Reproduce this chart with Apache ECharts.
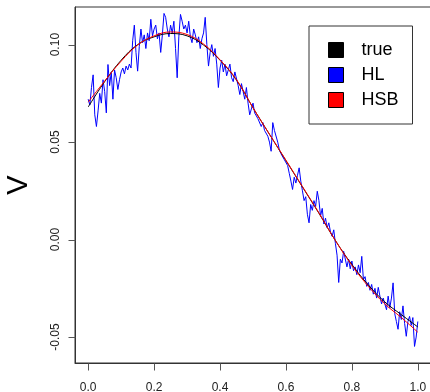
<!DOCTYPE html>
<html>
<head>
<meta charset="utf-8">
<script src="https://cdn.jsdelivr.net/npm/echarts@6/dist/echarts.min.js"></script>
<style>html,body{margin:0;padding:0;background:#fff}#c{width:430px;height:392px}</style>
</head>
<body>
<div id="c"></div>
<script>
const seriesNames = ['true', 'HL', 'HSB'];
const xTicks = [0, 0.2, 0.4, 0.6, 0.8, 1.0];
const yTicks = [-0.05, 0, 0.05, 0.10];
const smoothX = [0,0.05,0.10,0.15,0.20,0.25,0.30,0.35,0.40,0.45,0.50,0.55,0.60,0.65,0.70,0.75,0.80,0.85,0.90,0.95,1.00];
const trueV = [0.0680,0.0810,0.0920,0.1000,0.1040,0.1057,0.1045,0.0998,0.0920,0.0818,0.0676,0.0540,0.0405,0.0270,0.0135,-0.0005,-0.0128,-0.0233,-0.0320,-0.0385,-0.0448];
const hsbV = [0.0705,0.0813,0.0915,0.0998,0.1045,0.1065,0.1052,0.1003,0.0922,0.0820,0.0676,0.0540,0.0407,0.0272,0.0137,-0.0005,-0.0132,-0.0240,-0.0330,-0.0400,-0.0475];
const hlStep = 0.005;
const hlV = [
0.0720,0.0690,0.0780,0.0845,0.0640,0.0580,0.0660,0.0750,0.0700,0.0820,
0.0760,0.0650,0.0898,0.0790,0.0860,0.0720,0.0870,0.0830,0.0770,0.0820,
0.0860,0.0880,0.0850,0.0890,0.0870,0.0900,0.0880,0.1020,0.1100,0.0960,
0.0864,0.0990,0.1080,0.1010,0.1050,0.0980,0.1060,0.1020,0.1130,0.1045,
0.1080,0.1100,0.1030,0.1060,0.0960,0.1050,0.1160,0.1140,0.1080,0.1040,
0.1100,0.1060,0.1120,0.0980,0.0830,0.1040,0.1155,0.1120,0.1080,0.1100,
0.1060,0.1120,0.1040,0.1010,0.1080,0.1050,0.1010,0.1040,0.0980,0.1030,
0.1060,0.1140,0.1000,0.0890,0.0960,0.1000,0.0940,0.0980,0.0900,0.0780,
0.0880,0.0920,0.0860,0.0900,0.0840,0.0870,0.0900,0.0830,0.0810,0.0860,
0.0860,0.0790,0.0744,0.0800,0.0760,0.0720,0.0780,0.0700,0.0640,0.0670,
0.0700,0.0650,0.0660,0.0620,0.0630,0.0580,0.0600,0.0560,0.0570,0.0530,
0.0500,0.0453,0.0600,0.0560,0.0550,0.0500,0.0460,0.0440,0.0430,0.0410,
0.0410,0.0380,0.0340,0.0300,0.0257,0.0320,0.0290,0.0330,0.0368,0.0300,
0.0250,0.0200,0.0220,0.0130,0.0086,0.0180,0.0150,0.0200,0.0170,0.0248,
0.0200,0.0120,0.0160,0.0080,0.0110,0.0060,0.0086,0.0040,0.0017,0.0050,
-0.0020,-0.0080,-0.0220,-0.0100,-0.0120,-0.0060,-0.0067,-0.0140,-0.0100,-0.0150,
-0.0110,-0.0160,-0.0140,-0.0180,-0.0130,-0.0170,-0.0086,-0.0205,-0.0190,-0.0240,
-0.0220,-0.0260,-0.0230,-0.0280,-0.0250,-0.0300,-0.0245,-0.0290,-0.0330,-0.0300,
-0.0310,-0.0360,-0.0290,-0.0350,-0.0300,-0.0222,-0.0380,-0.0420,-0.0460,-0.0370,
-0.0410,-0.0340,-0.0430,-0.0496,-0.0420,-0.0394,-0.0440,-0.0400,-0.0548,-0.0500,
-0.0420
];

const xMin = -0.04, xMax = 1.04, yMin = -0.0633, yMax = 0.1193;
const pairs = (xs, ys) => ys.map((y, i) => [xs[i], y]);
const hlData = hlV.map((y, i) => [Math.round(i * hlStep * 1000) / 1000, y]);

const chart = echarts.init(document.getElementById('c'), null, {renderer: 'canvas'});
const font = 'Liberation Sans, Arial, sans-serif';
const tickLen = 7;
function tickSeries(data, horizontal) {
  return {
    type: 'custom', silent: true, clip: false, z: 1,
    data: data,
    encode: {x: 0, y: 1},
    renderItem: (params, api) => {
      const p = api.coord([api.value(0), api.value(1)]);
      const px = Math.round(p[0]) + 0.5, py = Math.round(p[1]) + 0.5;
      const shape = horizontal
        ? {x1: px, y1: py, x2: px, y2: py + tickLen}
        : {x1: px - tickLen, y1: py, x2: px, y2: py};
      return {type: 'line', shape: shape, style: {stroke: '#555', lineWidth: 1}};
    }
  };
}
chart.setOption({
  animation: false,
  backgroundColor: '#fff',
  grid: {left: 75, top: 7, width: 356, height: 356, show: true, borderColor: '#333', borderWidth: 1, outerBoundsMode: 'none'},
  xAxis: {
    type: 'value', min: xMin, max: xMax,
    axisLine: {show: true, onZero: false, lineStyle: {color: '#333'}},
    splitLine: {show: false},
    axisTick: {show: false},
    axisLabel: {customValues: xTicks, margin: 19, fontSize: 12, fontFamily: font, color: '#222', formatter: v => v.toFixed(1)}
  },
  yAxis: {
    type: 'value', min: yMin, max: yMax,
    name: 'V', nameLocation: 'middle', nameRotate: 90, nameGap: 42,
    nameTextStyle: {fontSize: 29, fontFamily: font, color: '#000'},
    axisLine: {show: true, onZero: false, lineStyle: {color: '#333'}},
    splitLine: {show: false},
    axisTick: {show: false},
    axisLabel: {customValues: yTicks, rotate: 90, margin: 13, fontSize: 12, fontFamily: font, color: '#222', formatter: v => v.toFixed(2)}
  },
  legend: {
    data: seriesNames, orient: 'vertical', left: 309, top: 26,
    padding: [14, 14, 14, 19], itemGap: 5, itemWidth: 15, itemHeight: 15,
    icon: 'rect', borderColor: '#333', borderWidth: 1, backgroundColor: '#fff',
    itemStyle: {borderColor: '#000', borderWidth: 1},
    textStyle: {fontSize: 18, fontFamily: font, color: '#000', lineHeight: 20, padding: [0, 0, 0, 13]}
  },
  series: [
    {name: 'HL', type: 'line', data: hlData, showSymbol: false, color: '#0000ff', lineStyle: {width: 1, color: '#0000ff'}, z: 2},
    {name: 'true', type: 'line', data: pairs(smoothX, trueV), smooth: 0.4, showSymbol: false, color: '#000000', lineStyle: {width: 1, color: '#000000'}, z: 3},
    {name: 'HSB', type: 'line', data: pairs(smoothX, hsbV), smooth: 0.4, showSymbol: false, color: '#ff0000', lineStyle: {width: 1, color: '#ff0000'}, z: 4},
    tickSeries(xTicks.map(v => [v, yMin]), true),
    tickSeries(yTicks.map(v => [xMin, v]), false)
  ]
});
</script>
</body>
</html>
